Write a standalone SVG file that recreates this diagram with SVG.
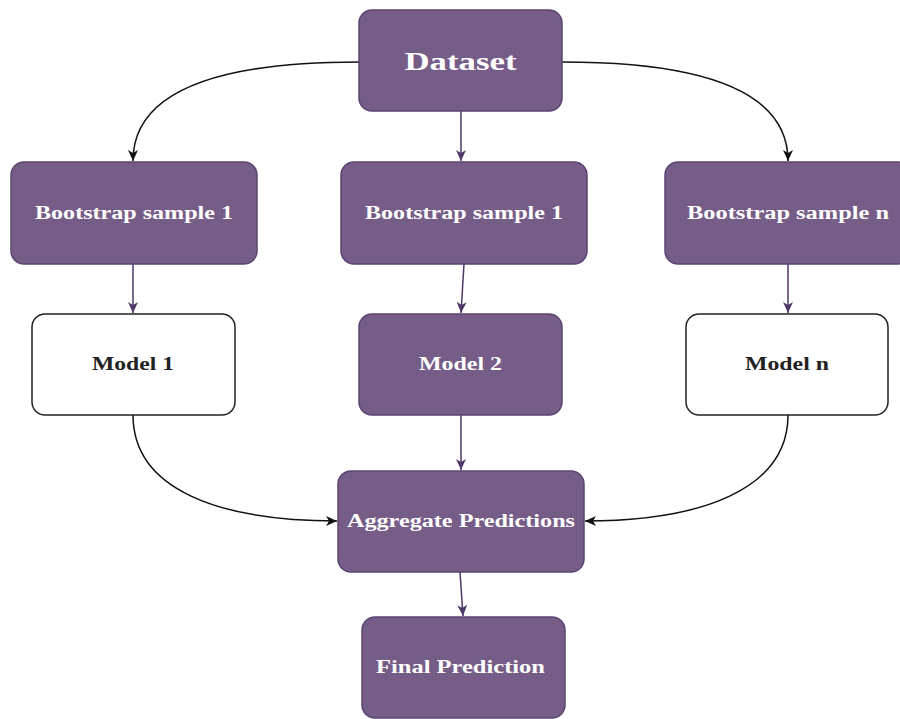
<svg xmlns="http://www.w3.org/2000/svg" width="900" height="719" viewBox="0 0 900 719">
<style>
.p{fill:#765d88;stroke:#5a4470;stroke-width:1.5}
.w{fill:#ffffff;stroke:#222222;stroke-width:1.5}
.t{font-family:"Liberation Serif","DejaVu Serif",serif;font-weight:bold;font-size:18px;text-anchor:middle}
.tw{fill:#ffffff}
.tb{fill:#222222}
.ck{fill:none;stroke:#111111;stroke-width:1.5}
.cp{fill:none;stroke:#4e3868;stroke-width:1.5}
</style>
<defs>
<marker id="ak" markerWidth="12" markerHeight="12" viewBox="0 0 12 12" refX="11" refY="6" orient="auto" markerUnits="userSpaceOnUse">
<path d="M0,1 L11,6 L0,11 L3,6 Z" fill="#111111"/>
</marker>
<marker id="ap" markerWidth="12" markerHeight="12" viewBox="0 0 12 12" refX="11" refY="6" orient="auto" markerUnits="userSpaceOnUse">
<path d="M0,1 L11,6 L0,11 L3,6 Z" fill="#4e3868"/>
</marker>
</defs>
<g id="connectors">
<path class="ck" d="M359,62 C220,62 133,90 133,161" marker-end="url(#ak)"/>
<path class="ck" d="M562,62 C701,62 788,90 788,161" marker-end="url(#ak)"/>
<path class="cp" d="M461,111 L461,161" marker-end="url(#ap)"/>
<path class="cp" d="M133,264 L133,313" marker-end="url(#ap)"/>
<path class="cp" d="M464,264 L461,313" marker-end="url(#ap)"/>
<path class="cp" d="M788,264 L788,313" marker-end="url(#ap)"/>
<path class="ck" d="M133,415 C133,490 220,521 337,521" marker-end="url(#ak)"/>
<path class="ck" d="M788,415 C788,490 700,521 585,521" marker-end="url(#ak)"/>
<path class="cp" d="M461,415 L461,470" marker-end="url(#ap)"/>
<path class="cp" d="M460,572 L463,616" marker-end="url(#ap)"/>
</g>
<g id="dataset">
<rect class="p" x="359" y="10" width="203" height="101" rx="13"/>
<text class="t tw" x="460.5" y="70" style="font-size:26px" textLength="112" lengthAdjust="spacingAndGlyphs">Dataset</text>
</g>
<g id="bootstrap1">
<rect class="p" x="11" y="162" width="246" height="102" rx="13"/>
<text class="t tw" x="134" y="219" textLength="198" lengthAdjust="spacingAndGlyphs">Bootstrap sample 1</text>
</g>
<g id="bootstrap2">
<rect class="p" x="341" y="162" width="246" height="102" rx="13"/>
<text class="t tw" x="464" y="219" textLength="198" lengthAdjust="spacingAndGlyphs">Bootstrap sample 1</text>
</g>
<g id="bootstrapn">
<rect class="p" x="665" y="162" width="246" height="102" rx="13"/>
<text class="t tw" x="788" y="219" textLength="202" lengthAdjust="spacingAndGlyphs">Bootstrap sample n</text>
</g>
<g id="model1">
<rect class="w" x="32" y="314" width="203" height="101" rx="13"/>
<text class="t tb" x="133" y="370" textLength="82" lengthAdjust="spacingAndGlyphs">Model 1</text>
</g>
<g id="model2">
<rect class="p" x="359" y="314" width="203" height="101" rx="13"/>
<text class="t tw" x="460.5" y="370" textLength="83" lengthAdjust="spacingAndGlyphs">Model 2</text>
</g>
<g id="modeln">
<rect class="w" x="686" y="314" width="202" height="101" rx="13"/>
<text class="t tb" x="787" y="370" textLength="84" lengthAdjust="spacingAndGlyphs">Model n</text>
</g>
<g id="aggregate">
<rect class="p" x="338" y="471" width="246" height="101" rx="13"/>
<text class="t tw" x="461" y="527" textLength="228" lengthAdjust="spacingAndGlyphs">Aggregate Predictions</text>
</g>
<g id="final">
<rect class="p" x="362" y="617" width="203" height="101" rx="13"/>
<text class="t tw" x="460.5" y="673" textLength="169" lengthAdjust="spacingAndGlyphs">Final Prediction</text>
</g>
</svg>
